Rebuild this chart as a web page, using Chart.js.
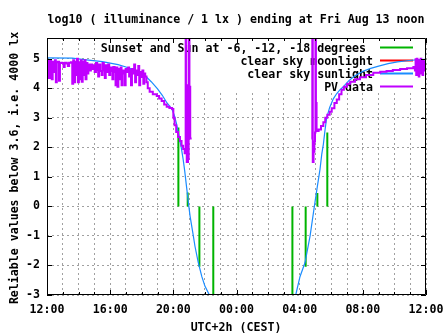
<!DOCTYPE html>
<html><head><meta charset="utf-8">
<script src="https://cdn.jsdelivr.net/npm/chart.js@4"></script>
<style>html,body{margin:0;padding:0;background:#fff}canvas{display:block}</style>
</head><body>
<canvas id="c" width="447" height="335"></canvas>
<script>
const titleText = 'log10 ( illuminance / 1 lx ) ending at Fri Aug 13 noon';
const xAxisTitle = 'UTC+2h (CEST)';
const yAxisTitle = 'Reliable values below 3.6, i.e. 4000 lx';
const xTickHours = [0, 4, 8, 12, 16, 20, 24];
const xTickLabels = ['12:00', '16:00', '20:00', '00:00', '04:00', '08:00', '12:00'];
const yTickValues = [-3, -2, -1, 0, 1, 2, 3, 4, 5];
const seriesNames = ['Sunset and Sun at -6, -12, -18 degrees ', 'clear sky moonlight', 'clear sky sunlight', 'PV data'];
const seriesColors = ['#00b400', '#ff0000', '#1a8cff', '#c000ff'];

// hours after 12:00 (Thu) ; sunset, -6, -12, -18 degrees, then morning -18, -12, -6, sunrise
const sunEventHours = [8.32, 8.91, 9.65, 10.53, 15.54, 16.38, 17.12, 17.75];
const sunEventValues = [2.67, 0.47, -2.04, -3.6, -3.6, -2.04, 0.45, 2.5];

const moonHours = [];
const moonValues = [];

const sunEveHours = [0, 1.6, 2.5, 3.5, 4.5, 5.0, 5.5, 6.0, 6.3, 6.6, 7.0, 7.3, 7.6, 7.9, 8.05, 8.2, 8.35, 8.5, 8.62, 8.72, 8.85, 8.95, 9.06, 9.23, 9.37, 9.58, 9.8, 10.0, 10.28, 10.45];
const sunEveValues = [5.03, 5.02, 4.96, 4.9, 4.8, 4.72, 4.62, 4.48, 4.38, 4.22, 3.98, 3.76, 3.5, 3.3, 3.1, 2.8, 2.4, 2.0, 1.6, 1.2, 0.6, 0.14, -0.33, -0.88, -1.35, -1.9, -2.37, -2.7, -3.0, -3.4];
const sunMornHours = [15.6, 15.75, 16.02, 16.34, 16.66, 16.93, 17.12, 17.29, 17.4, 17.5, 17.6, 17.71, 17.9, 18.13, 18.35, 18.56, 18.8, 19.1, 19.5, 20.0, 20.5, 21.0, 21.6, 22.2, 22.8, 23.5, 24.0];
const sunMornValues = [-3.4, -3.0, -2.38, -1.9, -1.0, 0.0, 0.68, 1.26, 1.77, 2.1, 2.56, 3.0, 3.35, 3.64, 3.82, 3.95, 4.07, 4.25, 4.42, 4.57, 4.67, 4.75, 4.83, 4.89, 4.93, 4.97, 4.98];

const pvEveHours = [0.00, 0.08, 0.12, 0.18, 0.26, 0.30, 0.36, 0.44, 0.50, 0.56, 0.62, 0.70, 0.76, 0.82, 0.95, 1.05, 1.12, 1.25, 1.32, 1.40, 1.52, 1.60, 1.66, 1.72, 1.78, 1.84, 1.90, 1.96, 2.02, 2.08, 2.14, 2.20, 2.26, 2.32, 2.38, 2.44, 2.50, 2.56, 2.62, 2.70, 2.78, 2.86, 2.94, 3.02, 3.10, 3.18, 3.24, 3.30, 3.38, 3.46, 3.52, 3.60, 3.66, 3.72, 3.80, 3.88, 3.94, 4.00, 4.08, 4.14, 4.20, 4.28, 4.34, 4.40, 4.46, 4.52, 4.60, 4.66, 4.72, 4.78, 4.86, 4.92, 4.98, 5.06, 5.14, 5.20, 5.26, 5.32, 5.38, 5.46, 5.52, 5.58, 5.64, 5.72, 5.78, 5.84, 5.90, 5.98, 6.04, 6.10, 6.16, 6.22, 6.30, 6.38, 6.50, 6.70, 6.95, 7.10, 7.26, 7.42, 7.58, 7.75, 7.92, 8.00, 8.08, 8.18, 8.30, 8.42, 8.52, 8.62, 8.72, 8.78, 8.80, 8.85, 8.93, 8.97, 9.02, 9.07, 9.16];
const pvEveValues = [4.95, 4.85, 4.35, 4.92, 4.88, 4.3, 4.9, 4.55, 4.95, 4.2, 4.88, 4.9, 4.25, 4.86, 4.85, 4.72, 4.86, 4.84, 4.75, 4.86, 4.88, 4.15, 4.95, 4.2, 4.9, 4.45, 5.0, 4.2, 4.88, 4.3, 4.95, 4.22, 4.9, 4.45, 4.95, 4.3, 4.85, 4.5, 4.8, 4.6, 4.8, 4.65, 4.78, 4.55, 4.85, 4.62, 4.4, 4.8, 4.58, 4.45, 4.85, 4.6, 4.35, 4.78, 4.55, 4.8, 4.45, 4.7, 4.58, 4.3, 4.72, 4.55, 4.1, 4.7, 4.05, 4.65, 4.3, 4.7, 4.1, 4.6, 4.5, 4.1, 4.65, 4.55, 4.7, 4.4, 4.62, 4.1, 4.65, 4.5, 4.8, 4.2, 4.6, 4.45, 4.75, 4.1, 4.55, 4.38, 4.6, 4.15, 4.5, 4.4, 4.2, 4.0, 3.88, 3.8, 3.74, 3.65, 3.57, 3.45, 3.37, 3.33, 3.3, 3.0, 2.75, 2.52, 2.35, 2.21, 2.05, 1.94, 1.8, 7.0, 4.1, 1.5, 1.6, 7.0, 4.05, 2.3, 2.3];
const pvMornHours = [16.74, 16.80, 16.83, 16.88, 16.93, 16.97, 17.00, 17.03, 17.07, 17.20, 17.35, 17.50, 17.62, 17.75, 17.90, 18.03, 18.20, 18.35, 18.50, 18.65, 18.80, 19.00, 19.20, 19.50, 19.82, 20.20, 20.66, 21.10, 21.50, 21.90, 22.36, 22.80, 23.20, 23.30, 23.34, 23.38, 23.42, 23.46, 23.50, 23.54, 23.58, 23.62, 23.66, 23.70, 23.74, 23.78, 23.82, 23.86, 23.90, 23.95];
const pvMornValues = [2.3, 7.0, 1.5, 1.85, 2.2, 2.5, 7.0, 3.5, 2.55, 2.6, 2.72, 2.85, 3.0, 3.1, 3.2, 3.32, 3.5, 3.62, 3.8, 3.95, 4.05, 4.15, 4.22, 4.3, 4.37, 4.45, 4.52, 4.56, 4.58, 4.62, 4.65, 4.68, 4.72, 4.6, 4.98, 4.45, 5.0, 4.55, 4.95, 4.4, 4.9, 4.6, 5.0, 4.5, 4.85, 4.45, 4.95, 4.6, 4.9, 4.7];

const FONT = 'bold 11.6px "DejaVu Sans Mono", monospace';

function pts(hs, vs) { return hs.map((h, i) => ({ x: h, y: vs[i] })); }
function joinSegs(a, b) { return a.concat([{ x: (a[a.length - 1].x + b[0].x) / 2, y: null }], b); }
function impulses(hs, vs) {
  const out = [];
  hs.forEach((h, i) => { out.push({ x: h, y: 0 }, { x: h, y: vs[i] }, { x: h, y: null }); });
  return out;
}

const LEG = { left: 97, top: 38, bottom: 92, textRight: 373, sampleL: 380, sampleR: 413, base: [52, 65, 78, 91] };

const gnuplotLook = {
  id: 'gnuplotLook',
  beforeDatasetsDraw(chart) {
    const ctx = chart.ctx, a = chart.chartArea;
    ctx.save();
    ctx.fillStyle = '#fff';
    ctx.fillRect(LEG.left, a.top + 1, a.right - LEG.left - 1, LEG.bottom - a.top - 1);
    ctx.font = FONT;
    ctx.fillStyle = '#000';
    ctx.textAlign = 'right';
    ctx.textBaseline = 'alphabetic';
    seriesNames.forEach((n, i) => {
      ctx.fillText(n, LEG.textRight, LEG.base[i]);
      ctx.strokeStyle = seriesColors[i];
      ctx.lineWidth = 2;
      ctx.beginPath();
      const y = LEG.base[i] - 4.5;
      ctx.moveTo(LEG.sampleL, y); ctx.lineTo(LEG.sampleR, y); ctx.stroke();
    });
    ctx.restore();
  },
  afterDatasetsDraw(chart) {
    const ctx = chart.ctx, a = chart.chartArea, xs = chart.scales.x, ys = chart.scales.y;
    ctx.save();
    ctx.strokeStyle = '#000';
    ctx.lineWidth = 1;
    ctx.beginPath();
    ctx.rect(Math.round(a.left) + 0.5, Math.round(a.top) + 0.5, Math.round(a.right - a.left) - 1, Math.round(a.bottom - a.top) - 1);
    ctx.stroke();
    ctx.beginPath();
    yTickValues.forEach(v => {
      const y = Math.round(ys.getPixelForValue(v)) + 0.5;
      ctx.moveTo(a.left, y); ctx.lineTo(a.left + 5, y);
      ctx.moveTo(a.right, y); ctx.lineTo(a.right - 5, y);
    });
    for (let h = 0; h <= 24; h++) {
      const x = Math.round(xs.getPixelForValue(h)) + 0.5;
      const len = (h % 4 === 0) ? 5 : 3;
      ctx.moveTo(x, a.bottom); ctx.lineTo(x, a.bottom - len);
      ctx.moveTo(x, a.top); ctx.lineTo(x, a.top + len);
    }
    ctx.stroke();
    ctx.restore();
  },
  afterDraw(chart) {
    const ctx = chart.ctx;
    ctx.save();
    ctx.font = FONT;
    ctx.fillStyle = '#000';
    ctx.textAlign = 'center';
    ctx.textBaseline = 'alphabetic';
    ctx.fillText(titleText, 236, 23);
    ctx.fillText(xAxisTitle, 236, 331);
    ctx.translate(18, 168);
    ctx.rotate(-Math.PI / 2);
    ctx.fillText(yAxisTitle, 0, 0);
    ctx.restore();
  }
};

new Chart(document.getElementById('c'), {
  type: 'line',
  data: {
    datasets: [
      { label: seriesNames[3], data: joinSegs(pts(pvEveHours, pvEveValues), pts(pvMornHours, pvMornValues)), borderColor: seriesColors[3], borderWidth: 2, stepped: true, pointRadius: 0, spanGaps: false, order: 0 },
      { label: seriesNames[2], data: joinSegs(pts(sunEveHours, sunEveValues), pts(sunMornHours, sunMornValues)), borderColor: seriesColors[2], borderWidth: 1.2, pointRadius: 0, spanGaps: false, order: 1 },
      { label: seriesNames[1], data: pts(moonHours, moonValues), borderColor: seriesColors[1], borderWidth: 1.5, pointRadius: 0, order: 2 },
      { label: seriesNames[0], data: impulses(sunEventHours, sunEventValues), borderColor: seriesColors[0], borderWidth: 2, pointRadius: 0, spanGaps: false, order: 3 }
    ]
  },
  options: {
    responsive: false,
    animation: false,
    events: [],
    layout: { padding: { top: 38, right: 21, left: 0, bottom: 0 } },
    plugins: { legend: { display: false }, title: { display: false }, tooltip: { enabled: false } },
    scales: {
      x: {
        type: 'linear', min: 0, max: 24,
        afterFit: s => { s.height = 40; s.paddingLeft = 0; s.paddingRight = 0; },
        afterBuildTicks: s => { s.ticks = []; for (let h = 0; h <= 24; h++) s.ticks.push({ value: h }); },
        ticks: {
          autoSkip: false, maxRotation: 0, padding: 8, color: '#000',
          font: { family: '"DejaVu Sans Mono", monospace', size: 11.6, weight: 'bold' },
          callback: v => { const i = xTickHours.indexOf(v); return i >= 0 ? xTickLabels[i] : ''; }
        },
        grid: { color: '#a0a0a0', lineWidth: 1, drawTicks: false },
        border: { display: false, dash: [2, 3] }
      },
      y: {
        type: 'linear', min: -3, max: 5.7,
        afterFit: s => { s.width = 47; s.paddingTop = 0; s.paddingBottom = 0; },
        afterBuildTicks: s => { s.ticks = yTickValues.map(v => ({ value: v })); },
        ticks: {
          padding: 7, color: '#000',
          font: { family: '"DejaVu Sans Mono", monospace', size: 11.6, weight: 'bold' },
          callback: v => String(v)
        },
        grid: { color: '#a0a0a0', lineWidth: 1, drawTicks: false },
        border: { display: false, dash: [2, 3] }
      }
    }
  },
  plugins: [gnuplotLook]
});
</script>
</body></html>
